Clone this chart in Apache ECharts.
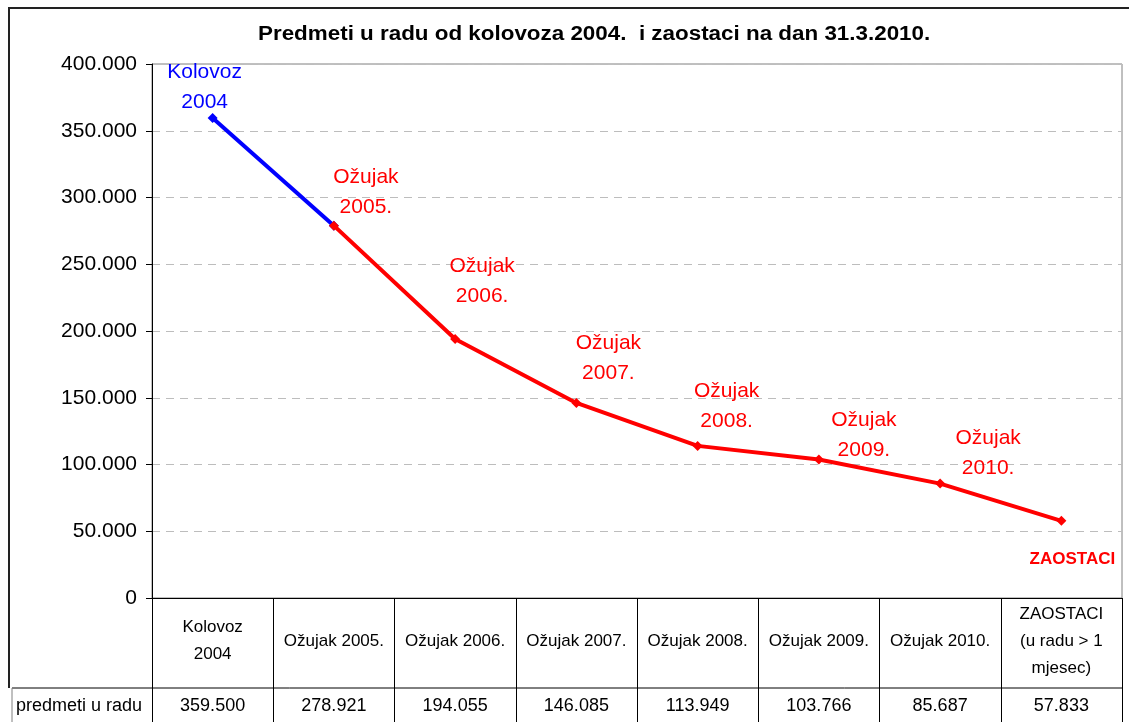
<!DOCTYPE html>
<html>
<head>
<meta charset="utf-8">
<script src="https://cdn.jsdelivr.net/npm/echarts@6/dist/echarts.min.js"></script>
<style>
  html, body { margin: 0; padding: 0; background: #fff; }
  #chart { width: 1129px; height: 722px; }
</style>
</head>
<body>
<div id="chart"></div>
<script>
// podaci
var categories = ['Kolovoz\n2004', 'Ožujak 2005.', 'Ožujak 2006.', 'Ožujak 2007.',
  'Ožujak 2008.', 'Ožujak 2009.', 'Ožujak 2010.', 'ZAOSTACI\n(u radu > 1\nmjesec)'];
var pointLabels = ['Kolovoz\n2004', 'Ožujak\n2005.', 'Ožujak\n2006.', 'Ožujak\n2007.',
  'Ožujak\n2008.', 'Ožujak\n2009.', 'Ožujak\n2010.', 'ZAOSTACI'];
var predmeti = [359500, 278921, 194055, 146085, 113949, 103766, 85687, 57833];
var rowName = 'predmeti u radu';
var titleText = 'Predmeti u radu od kolovoza 2004.  i zaostaci na dan 31.3.2010.';

// pomak natpisa od tocke (samo izgled)
var labelOffsets = [[-8, -31], [32, -33], [27, -58], [32, -45], [29, -40], [45, -24], [48, -30], [11, 39]];

var font = 'Liberation Sans, Arial, sans-serif';

function fmt(n) {
  return String(n).replace(/\B(?=(\d{3})+(?!\d))/g, '.');
}

function makeItem(i, color, bold, size) {
  return {
    value: predmeti[i],
    label: {
      show: true,
      position: 'inside',
      offset: labelOffsets[i],
      formatter: pointLabels[i],
      color: color,
      fontSize: size,
      fontWeight: bold ? 'bold' : 'normal',
      fontFamily: font,
      lineHeight: 30
    }
  };
}

var blueData = predmeti.map(function (v, i) {
  if (i === 0) return makeItem(0, '#0000ff', false, 21);
  if (i === 1) return { value: v, label: { show: false } };
  return '-';
});
var redData = predmeti.map(function (v, i) {
  if (i === 0) return '-';
  if (i === 7) return makeItem(i, '#ff0000', true, 17);
  return makeItem(i, '#ff0000', false, 21);
});

var chart = echarts.init(document.getElementById('chart'));
var option = {
  backgroundColor: '#fff',
  animation: false,
  grid: {
    left: 152, right: 7, top: 64, bottom: 124,
    show: true, borderColor: '#808080', borderWidth: 1
  },
  xAxis: [
    {
      type: 'category',
      data: categories,
      boundaryGap: true,
      axisLine: { show: true, lineStyle: { color: '#000', width: 1 } },
      axisTick: { show: true, length: 130, lineStyle: { color: '#000', width: 1 } },
      axisLabel: {
        interval: 0, margin: 43, verticalAlign: 'middle',
        fontSize: 17, lineHeight: 27, color: '#000', fontFamily: font
      }
    },
    {
      type: 'category',
      data: categories,
      position: 'bottom',
      boundaryGap: true,
      axisLine: { show: false },
      axisTick: { show: false },
      axisLabel: {
        interval: 0, margin: 108, verticalAlign: 'middle',
        fontSize: 18, color: '#000', fontFamily: font,
        formatter: function (v, i) { return fmt(predmeti[i]); }
      }
    }
  ],
  yAxis: {
    type: 'value',
    min: 0, max: 400000, interval: 50000,
    axisLine: { show: true, lineStyle: { color: '#000', width: 1 } },
    axisTick: { show: true, length: 6, lineStyle: { color: '#000' } },
    axisLabel: { fontSize: 21, color: '#000', fontFamily: font, margin: 15, formatter: fmt },
    splitLine: { show: true, lineStyle: { color: '#bdbdbd', type: [8, 6], width: 1 } }
  },
  series: [
    {
      type: 'line', data: blueData, symbol: 'diamond', symbolSize: 10,
      lineStyle: { color: '#0000ff', width: 4 }, itemStyle: { color: '#0000ff' }, z: 2
    },
    {
      type: 'line', data: redData, symbol: 'diamond', symbolSize: 10,
      lineStyle: { color: '#ff0000', width: 4 }, itemStyle: { color: '#ff0000' }, z: 3
    }
  ],
  graphic: [
    { type: 'polyline', shape: { points: [[9, 688], [9, 8], [1129, 8]] }, style: { stroke: '#222', lineWidth: 2, fill: null } },
    { type: 'line', shape: { x1: 12, y1: 688, x2: 1122, y2: 688 }, style: { stroke: '#000', lineWidth: 1 } },
    { type: 'line', shape: { x1: 12, y1: 688, x2: 12, y2: 722 }, style: { stroke: '#808080', lineWidth: 1 } },
    { type: 'text', x: 16, y: 706, style: { text: rowName, fontSize: 18, fontFamily: font, fill: '#000', verticalAlign: 'middle' } },
    {
      type: 'text', x: 258, y: 34, scaleX: 1.12,
      style: { text: titleText, fontSize: 20, fontWeight: 'bold', fontFamily: font, fill: '#000', verticalAlign: 'middle' }
    }
  ]
};
chart.setOption(option);
</script>
</body>
</html>
